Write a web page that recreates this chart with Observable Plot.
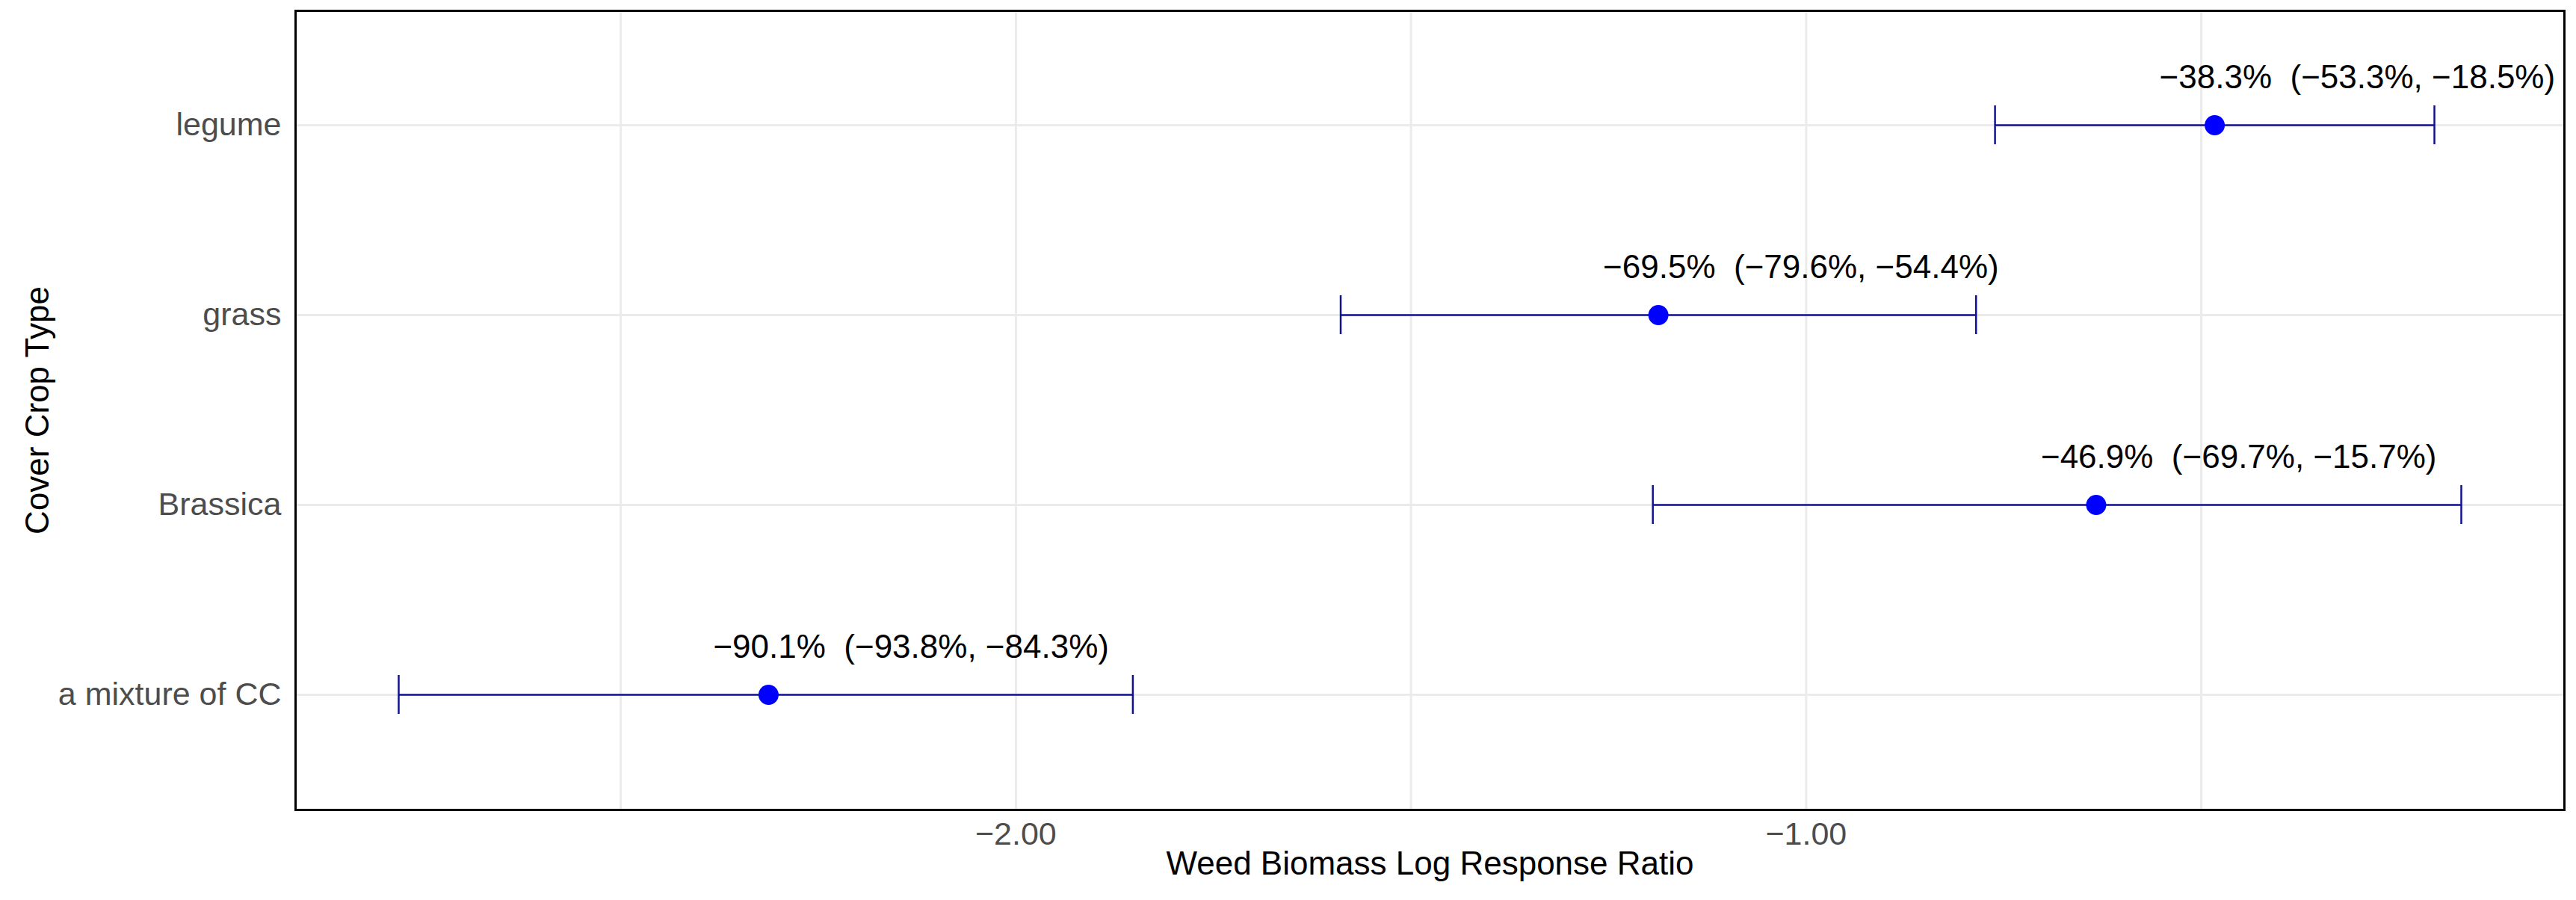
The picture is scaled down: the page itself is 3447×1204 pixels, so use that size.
<!DOCTYPE html>
<html>
<head>
<meta charset="utf-8">
<script src="https://cdn.jsdelivr.net/npm/d3@7"></script>
<script src="https://cdn.jsdelivr.net/npm/@observablehq/plot@0.6"></script>
<style>
  html, body { margin: 0; padding: 0; background: #ffffff; }
  #chart svg { display: block; }
</style>
</head>
<body>
<div id="chart"></div>
<script>
// Data
const categories = ["legume", "grass", "Brassica", "a mixture of CC"];
const estimate = [-0.483, -1.187, -0.633, -2.313];
const lower = [-0.761, -1.589, -1.194, -2.781];
const upper = [-0.205, -0.785, -0.171, -1.852];
const labels = [
  "\u221238.3%  (\u221253.3%, \u221218.5%)",
  "\u221269.5%  (\u221279.6%, \u221254.4%)",
  "\u221246.9%  (\u221269.7%, \u221215.7%)",
  "\u221290.1%  (\u221293.8%, \u221284.3%)"
];
const xTicks = [-2, -1];
const xGrid = [-2.5, -2, -1.5, -1, -0.5];
const xTitle = "Weed Biomass Log Response Ratio";
const yTitle = "Cover Crop Type";

const rows = categories.map((c, i) => ({
  type: c, est: estimate[i], lo: lower[i], hi: upper[i], label: labels[i]
}));

const font = "Arial, 'Liberation Sans', sans-serif";
const barColor = "#12128f";
const capInset = 50;

const chart = Plot.plot({
  width: 3447,
  height: 1204,
  marginLeft: 395,
  marginRight: 16,
  marginTop: 14,
  marginBottom: 121,
  style: { fontFamily: font, background: "#ffffff" },
  x: { domain: [-2.9115, -0.0405] },
  y: { type: "band", domain: categories, paddingInner: 0.4, paddingOuter: 0.3 },
  marks: [
    Plot.ruleX(xGrid, { stroke: "#ebebeb", strokeWidth: 3 }),
    Plot.ruleY(categories, { y: d => d, stroke: "#ebebeb", strokeWidth: 3 }),
    Plot.ruleY(rows, { y: "type", x1: "lo", x2: "hi", stroke: barColor, strokeWidth: 2.5 }),
    Plot.tickX(rows, { x: "lo", y: "type", stroke: barColor, strokeWidth: 2.5, insetTop: capInset, insetBottom: capInset }),
    Plot.tickX(rows, { x: "hi", y: "type", stroke: barColor, strokeWidth: 2.5, insetTop: capInset, insetBottom: capInset }),
    Plot.dot(rows, { x: "est", y: "type", r: 13.5, fill: "#0000ff", stroke: null }),
    Plot.text(rows, { x: "est", y: "type", text: "label", textAnchor: "start", dx: -74, dy: -64, fontSize: 44, fill: "#000000" }),
    Plot.axisX(xTicks, { tickFormat: d3.format(".2f"), tickSize: 0, tickPadding: 16, fontSize: 43, color: "#4d4d4d", fill: "#4d4d4d", label: null }),
    Plot.axisY({ tickSize: 0, tickPadding: 19, fontSize: 43, color: "#4d4d4d", fill: "#4d4d4d", label: null }),
    Plot.text([xTitle], { frameAnchor: "bottom", textAnchor: "middle", dy: 86, fontSize: 44, fill: "#000000" }),
    Plot.text([yTitle], { frameAnchor: "left", textAnchor: "middle", dx: -345, rotate: -90, fontSize: 44, fill: "#000000" }),
    Plot.frame({ stroke: "#000000", strokeWidth: 3 })
  ]
});
document.getElementById("chart").appendChild(chart);
</script>
</body>
</html>
